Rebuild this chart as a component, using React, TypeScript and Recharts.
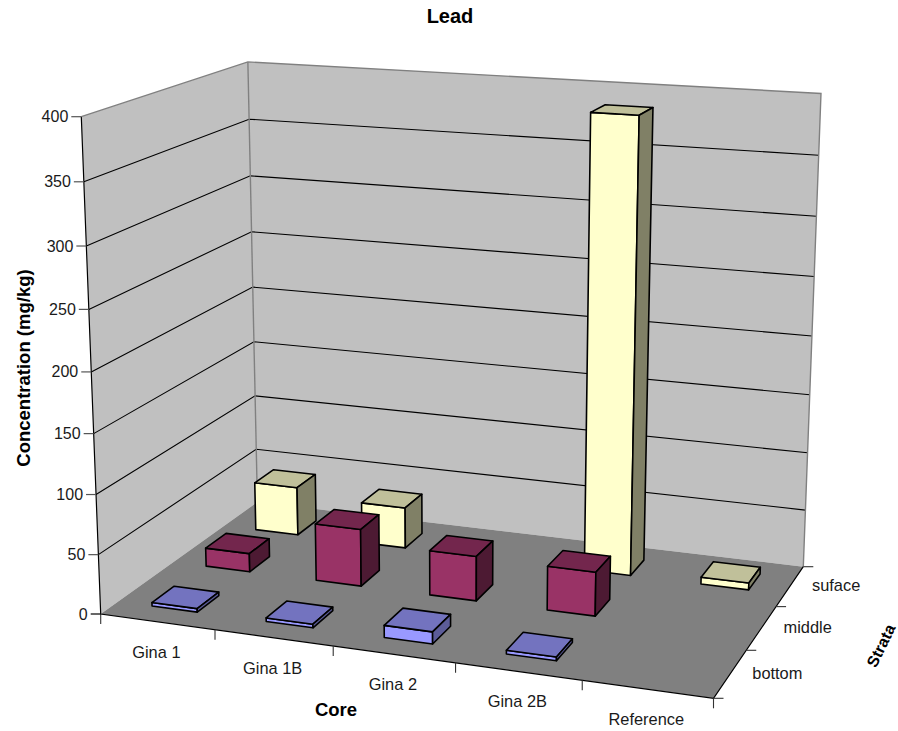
import { BarChart, Bar, XAxis, YAxis } from "recharts";

const WIDTH = 898;
const HEIGHT = 731;

const categories = ["Gina 1", "Gina 1B", "Gina 2", "Gina 2B", "Reference"];
const strata = ["bottom", "middle", "suface"];
const yTicks = [0, 50, 100, 150, 200, 250, 300, 350, 400];
const yMax = 400;

const bottomValues = [3, 3, 10, 3, null];
const middleValues = [16, 49, 38, 37, null];
const surfaceValues = [43, 36, null, 386, 6];

const data = categories.map((name, i) => ({
  name,
  bottom: bottomValues[i],
  middle: middleValues[i],
  suface: surfaceValues[i],
}));

// corners of the 3d box on screen
const O = [100.7, 614];
const A = [713.5, 698.3];
const B = [257.4, 502.1];
const D = [803.3, 566.7];
const C = [81.3, 116.7];
const F = [821, 92.7];

// perspective from the corners, w = 1 + ax + by + ch
function solveWeights() {
  const a1 = D[0] - A[0], b1 = D[0] - B[0], r1 = A[0] + B[0] - O[0] - D[0];
  const a2 = D[1] - A[1], b2 = D[1] - B[1], r2 = A[1] + B[1] - O[1] - D[1];
  const det = a1 * b2 - a2 * b1;
  const a = (r1 * b2 - r2 * b1) / det;
  const b = (a1 * r2 - a2 * r1) / det;
  const c = (A[0] * (1 + a) + B[0] * (1 + b) + C[0] - 2 * O[0] - F[0] * (1 + a + b)) / (F[0] - C[0]);
  return { a, b, c };
}
const { a: wa, b: wb, c: wc } = solveWeights();

function project(x: number, y: number, h: number): [number, number] {
  const w = 1 + wa * x + wb * y + wc * h;
  const coord = (k: number) => {
    const px = A[k] * (1 + wa) - O[k];
    const py = B[k] * (1 + wb) - O[k];
    const ph = C[k] * (1 + wc) - O[k];
    return (O[k] + px * x + py * y + ph * h) / w;
  };
  return [coord(0), coord(1)];
}

const pts = (list: [number, number][]) => list.map((p) => p.join(",")).join(" ");

const makeBarShape = (depthIndex: number, colors: { front: string; top: string; side: string }) => (props: any) => {
  const { payload, height } = props;
  if (!height || height <= 0) return <g />;
  const h = height / (HEIGHT - 1);
  const xc = (categories.indexOf(payload.name) + 0.5) / categories.length + 0.0005;
  const yc = (depthIndex + 0.5) / strata.length;
  const hw = 0.4 / categories.length / 2;
  const hd = 0.4 / strata.length / 2;
  const x0 = xc - hw, x1 = xc + hw, y0 = yc - hd, y1 = yc + hd;
  const stroke = { stroke: "#000", strokeWidth: 1.6, strokeLinejoin: "round" as const };
  return (
    <g>
      <polygon points={pts([project(x0, y0, 0), project(x1, y0, 0), project(x1, y0, h), project(x0, y0, h)])} fill={colors.front} {...stroke} />
      <polygon points={pts([project(x0, y0, h), project(x1, y0, h), project(x1, y1, h), project(x0, y1, h)])} fill={colors.top} {...stroke} />
      <polygon points={pts([project(x1, y0, 0), project(x1, y1, 0), project(x1, y1, h), project(x1, y0, h)])} fill={colors.side} {...stroke} />
    </g>
  );
};

const font = "Liberation Sans, Arial, sans-serif";
const labelStyle = { fontFamily: font, fontSize: 16.4, fill: "#1a1a1a" };
const titleStyle = { fontFamily: font, fontSize: 18.5, fontWeight: 700, fill: "#000" };

function ValueTick(props: any) {
  const value = props.payload.value;
  const [x, y] = project(0, 0, value / yMax);
  return (
    <g>
      <line x1={x - 10} y1={y} x2={x} y2={y} stroke={value === 0 ? "#000" : "#555"} strokeWidth={1.2} />
      <text x={x - 13} y={y + 5.5} textAnchor="end" {...labelStyle} fontSize={16}>{value}</text>
    </g>
  );
}

function CategoryTick(props: any) {
  const i = props.index;
  const [x, y] = project((i + 0.5) / categories.length, 0, 0);
  return (
    <text x={x - 1} y={y + 36} textAnchor="middle" {...labelStyle}>{categories[i]}</text>
  );
}

function Box() {
  const wallLine = { stroke: "#808080", strokeWidth: 1.4 };
  return (
    <g>
      <polygon points={pts([project(0, 0, 0), project(0, 1, 0), project(0, 1, 1), project(0, 0, 1)])} fill="#c0c0c0" />
      <polygon points={pts([project(0, 1, 0), project(1, 1, 0), project(1, 1, 1), project(0, 1, 1)])} fill="#c0c0c0" />
      <polygon points={pts([project(0, 0, 0), project(1, 0, 0), project(1, 1, 0), project(0, 1, 0)])} fill="#808080" />
      {yTicks.slice(1, -1).map((t) => {
        const h = t / yMax;
        return <polyline key={t} points={pts([project(0, 0, h), project(0, 1, h), project(1, 1, h)])} fill="none" stroke="#000" strokeWidth={1.1} />;
      })}
      <polyline points={pts([project(0, 0, 1), project(0, 1, 1), project(1, 1, 1), project(1, 1, 0)])} fill="none" {...wallLine} />
      <line x1={project(0, 1, 0)[0]} y1={project(0, 1, 0)[1]} x2={project(0, 1, 1)[0]} y2={project(0, 1, 1)[1]} {...wallLine} />
      <polyline points={pts([project(0, 0, 1), project(0, 0, 0), project(1, 0, 0), project(1, 1, 0)])} fill="none" stroke="#000" strokeWidth={1.2} />
      {categories.map((_, i) => {
        const [x, y] = project(i / categories.length, 0, 0);
        return <line key={i} x1={x} y1={y} x2={x} y2={y + 10} stroke="#333" strokeWidth={1.1} />;
      })}
      <line x1={project(1, 0, 0)[0]} y1={project(1, 0, 0)[1]} x2={project(1, 0, 0)[0]} y2={project(1, 0, 0)[1] + 10} stroke="#333" strokeWidth={1.1} />
      {[0, 1, 2, 3].map((i) => {
        const [x, y] = project(1, i / strata.length, 0);
        return <line key={i} x1={x} y1={y} x2={x + 10} y2={y} stroke="#333" strokeWidth={1.1} />;
      })}
      {strata.map((s, i) => {
        const [x, y] = project(1, (i + 0.5) / strata.length, 0);
        return <text key={s} x={x + 22} y={y + 5} {...labelStyle}>{s}</text>;
      })}
    </g>
  );
}

export default function App() {
  return (
    <div style={{ position: "absolute", left: 0, top: 0, width: WIDTH, height: HEIGHT, background: "#fff" }}>
      <BarChart width={WIDTH} height={HEIGHT} data={data} margin={{ top: 0, right: 0, bottom: 0, left: 0 }}>
        <Box />
        <XAxis dataKey="name" height={1} axisLine={false} tickLine={false} interval={0} tick={<CategoryTick />} />
        <YAxis width={1} domain={[0, yMax]} ticks={yTicks} axisLine={false} tickLine={false} interval={0} tick={<ValueTick />} />
        <Bar dataKey="suface" isAnimationActive={false} shape={makeBarShape(2, { front: "#ffffcc", top: "#c0c09a", side: "#808066" })} />
        <Bar dataKey="middle" isAnimationActive={false} shape={makeBarShape(1, { front: "#993366", top: "#73264d", side: "#4d1a33" })} />
        <Bar dataKey="bottom" isAnimationActive={false} shape={makeBarShape(0, { front: "#9999ff", top: "#7373bf", side: "#5c5c99" })} />
        <text x={450} y={22.7} textAnchor="middle" {...titleStyle} fontSize={20}>Lead</text>
        <text x={336} y={716} textAnchor="middle" {...titleStyle}>Core</text>
        <text transform="translate(29.5 368) rotate(-90)" textAnchor="middle" {...titleStyle}>Concentration (mg/kg)</text>
        <text transform="translate(886 648) rotate(-64)" textAnchor="middle" {...titleStyle} fontSize={16}>Strata</text>
      </BarChart>
    </div>
  );
}
